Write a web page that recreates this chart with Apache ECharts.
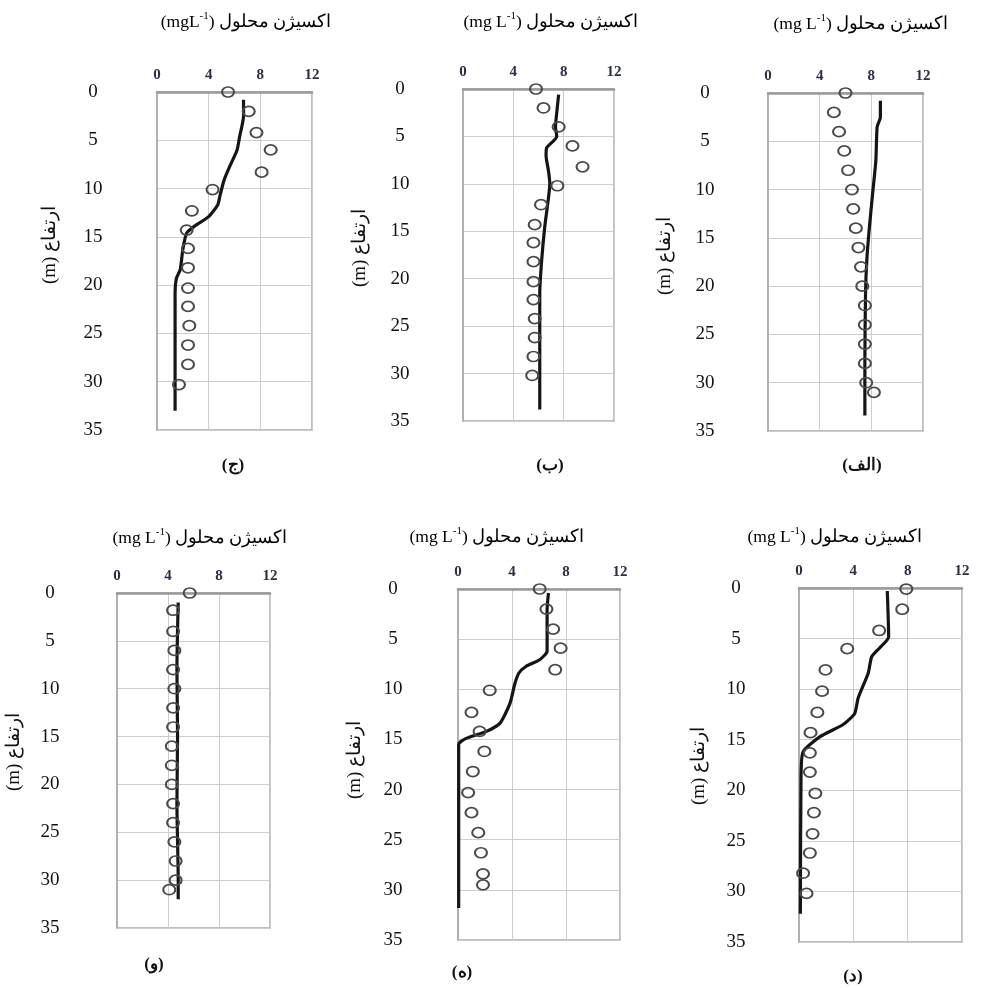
<!DOCTYPE html>
<html><head><meta charset="utf-8">
<script src="https://cdn.jsdelivr.net/npm/echarts@6/dist/echarts.min.js"></script>
<style>html,body{margin:0;padding:0;background:#fff}#c{width:986px;height:988px}</style>
</head><body><div id="c"></div>
<script>
// ---- data: [dissolved oxygen (mg/L), depth (m)] ----
const xTicks = [0, 4, 8, 12];
const yTicks = [0, 5, 10, 15, 20, 25, 30, 35];

const obsAlef = [[6.0,0],[5.1,2],[5.5,4],[5.9,6],[6.2,8],[6.5,10],[6.6,12],[6.8,14],[7.0,16],[7.2,18],[7.3,20],[7.5,22],[7.5,24],[7.5,26],[7.5,28],[7.6,30],[8.2,31]];
const modAlef = [[8.7,0.8],[8.7,2.5],[8.45,3.5],[8.35,7],[8.1,10.4],[7.85,13.9],[7.65,17.3],[7.55,20.8],[7.5,27.7],[7.5,33.4]];

const obsBe = [[5.8,0],[6.4,2],[7.6,4],[8.7,6],[9.5,8.2],[7.5,10.2],[6.2,12.2],[5.7,14.3],[5.6,16.2],[5.6,18.2],[5.6,20.3],[5.6,22.2],[5.7,24.2],[5.7,26.2],[5.6,28.2],[5.5,30.2]];
const modBe = [[7.6,0.6],[7.45,2.5],[7.35,4],[7.45,5],[6.65,6.2],[6.6,7],[6.8,8.7],[6.9,10],[6.8,11.4],[6.5,14.5],[6.25,18.1],[6.1,21.6],[6.1,33.8]];

const obsJim = [[5.5,0],[7.1,2],[7.7,4.2],[8.8,6],[8.1,8.3],[4.3,10.1],[2.7,12.3],[2.3,14.3],[2.4,16.2],[2.4,18.2],[2.4,20.3],[2.4,22.2],[2.5,24.2],[2.4,26.2],[2.4,28.2],[1.7,30.3]];
const modJim = [[6.7,0.8],[6.7,2.5],[6.4,4.6],[6.2,6],[5.7,7.5],[5.2,9.1],[4.9,10.6],[4.7,11.7],[4.0,12.9],[3.0,13.8],[2.3,14.6],[2.0,16.3],[1.8,18.4],[1.5,19.3],[1.4,20.8],[1.4,33]];

const obsDal = [[7.9,0.1],[7.6,2.1],[5.9,4.2],[3.55,6],[1.95,8.1],[1.7,10.2],[1.35,12.3],[0.85,14.3],[0.8,16.3],[0.8,18.2],[1.2,20.3],[1.1,22.2],[1.0,24.3],[0.8,26.2],[0.3,28.2],[0.55,30.2]];
const modDal = [[6.5,0.3],[6.6,4.85],[5.95,5.9],[5.35,6.8],[5.1,8.4],[4.35,10.9],[4.1,12.4],[3.25,13.5],[1.55,14.7],[0.3,16.2],[0.15,18.6],[0.1,32.2]];

const obsHe = [[6.05,0],[6.55,2],[7.05,4],[7.6,5.9],[7.2,8.05],[2.35,10.1],[1.0,12.3],[1.6,14.2],[1.95,16.2],[1.1,18.2],[0.75,20.3],[1.0,22.3],[1.5,24.3],[1.7,26.3],[1.85,28.4],[1.85,29.5]];
const modHe = [[6.7,0.4],[6.6,2.1],[6.6,6.2],[6.05,7.05],[5.05,7.7],[4.5,8.4],[4.2,9.5],[3.85,11.4],[3.1,13.4],[2.1,14.2],[0.6,14.9],[0.05,15.5],[0.05,31.8]];

const obsVav = [[5.7,0],[4.4,1.8],[4.4,4],[4.5,6],[4.4,8],[4.5,10],[4.4,12],[4.4,14],[4.3,16],[4.3,18],[4.3,20],[4.4,22],[4.4,24],[4.5,26],[4.6,28],[4.6,30],[4.1,31]];
const modVav = [[4.8,1],[4.7,8],[4.75,15],[4.7,22],[4.8,30],[4.8,32]];

const titleUnitsA = '(mgL';
const titleUnitsB = '(mg L';
const titleArabic = ') اکسیژن محلول';
const yName = '(m) ارتفاع';

// ---- layout ----
const panels = [
  {obs: obsJim,  mod: modJim,  units: titleUnitsA, cap: '(ج)',   rect: [157, 92, 155, 338],  lblC: 93,  nameX: 50,  nameY: 245, titleX: 246, titleY: 22,  capX: 233, capY: 466},
  {obs: obsBe,   mod: modBe,   units: titleUnitsB, cap: '(ب)',   rect: [463, 89, 151, 332],  lblC: 400, nameX: 360, nameY: 248, titleX: 551, titleY: 22,  capX: 550, capY: 466},
  {obs: obsAlef, mod: modAlef, units: titleUnitsB, cap: '(الف)', rect: [768, 93, 155, 338],  lblC: 705, nameX: 665, nameY: 256, titleX: 861, titleY: 24,  capX: 862, capY: 466},
  {obs: obsVav,  mod: modVav,  units: titleUnitsB, cap: '(و)',   rect: [117, 593, 153, 335], lblC: 50,  nameX: 14,  nameY: 752, titleX: 200, titleY: 538, capX: 154, capY: 965},
  {obs: obsHe,   mod: modHe,   units: titleUnitsB, cap: '(ه)',   rect: [458, 589, 162, 351], lblC: 393, nameX: 355, nameY: 760, titleX: 497, titleY: 537, capX: 462, capY: 973},
  {obs: obsDal,  mod: modDal,  units: titleUnitsB, cap: '(د)',   rect: [799, 588, 163, 354], lblC: 736, nameX: 699, nameY: 766, titleX: 835, titleY: 537, capX: 853, capY: 977}
];

const serif = "'Liberation Serif','Times New Roman','DejaVu Serif',serif";
const grids = [], xAxes = [], yAxes = [], series = [], graphics = [];

panels.forEach((p, i) => {
  const [l, t, w, h] = p.rect;
  grids.push({left: l, top: t, width: w, height: h, show: true, borderColor: '#a9a9a9', borderWidth: 1.5, containLabel: false});
  xAxes.push({
    type: 'value', gridIndex: i, position: 'top', min: xTicks[0], max: xTicks[xTicks.length - 1], interval: xTicks[1] - xTicks[0],
    axisLine: {show: true, onZero: false, lineStyle: {color: '#9a9a9a', width: 2.5}},
    axisTick: {show: false},
    axisLabel: {margin: 9, fontFamily: serif, fontWeight: 'bold', fontSize: 15, color: '#2b2f45'},
    splitLine: {show: true, lineStyle: {color: '#cdcdcd', width: 1}}
  });
  yAxes.push({
    type: 'value', gridIndex: i, inverse: true, min: yTicks[0], max: yTicks[yTicks.length - 1], interval: yTicks[1] - yTicks[0],
    axisLine: {show: true, onZero: false, lineStyle: {color: '#a9a9a9', width: 1.5}},
    axisTick: {show: false},
    axisLabel: {margin: l - p.lblC, align: 'center', fontFamily: serif, fontSize: 19, color: '#111', padding: [12, 0, 0, 0]},
    splitLine: {show: true, lineStyle: {color: '#cdcdcd', width: 1}}
  });
  series.push({
    type: 'line', xAxisIndex: i, yAxisIndex: i, data: p.mod, showSymbol: false, smooth: 0.2,
    lineStyle: {color: '#151515', width: 3.2}, z: 2, silent: true
  });
  series.push({
    type: 'scatter', xAxisIndex: i, yAxisIndex: i, data: p.obs, symbol: 'circle', symbolSize: [12, 10],
    itemStyle: {color: 'rgba(255,255,255,0)', borderColor: '#4a4a4a', borderWidth: 1.9, opacity: 1}, z: 3, silent: true
  });
  graphics.push({
    type: 'text', x: p.titleX, y: p.titleY, z: 10,
    style: {
      text: '{a|' + p.units + '}{s|-1}{a|' + titleArabic + '}',
      align: 'center', verticalAlign: 'middle',
      rich: {
        a: {fontFamily: serif, fontSize: 17.5, color: '#111', lineHeight: 22},
        s: {fontFamily: serif, fontSize: 11, color: '#111', verticalAlign: 'top', lineHeight: 22, padding: [0, 0, 9, 0]}
      }
    }
  });
  graphics.push({
    type: 'text', x: p.nameX, y: p.nameY, rotation: Math.PI / 2, z: 10,
    style: {text: yName, fontFamily: serif, fontSize: 19, fill: '#111', align: 'center', verticalAlign: 'middle'}
  });
  graphics.push({
    type: 'text', x: p.capX, y: p.capY, z: 10,
    style: {text: p.cap, fontFamily: serif, fontSize: 17, fontWeight: 'bold', fill: '#111', align: 'center', verticalAlign: 'middle'}
  });
});

const chart = echarts.init(document.getElementById('c'), null, {renderer: 'canvas'});
chart.setOption({
  animation: false,
  backgroundColor: '#fff',
  grid: grids, xAxis: xAxes, yAxis: yAxes, series: series, graphic: graphics
});
</script></body></html>
